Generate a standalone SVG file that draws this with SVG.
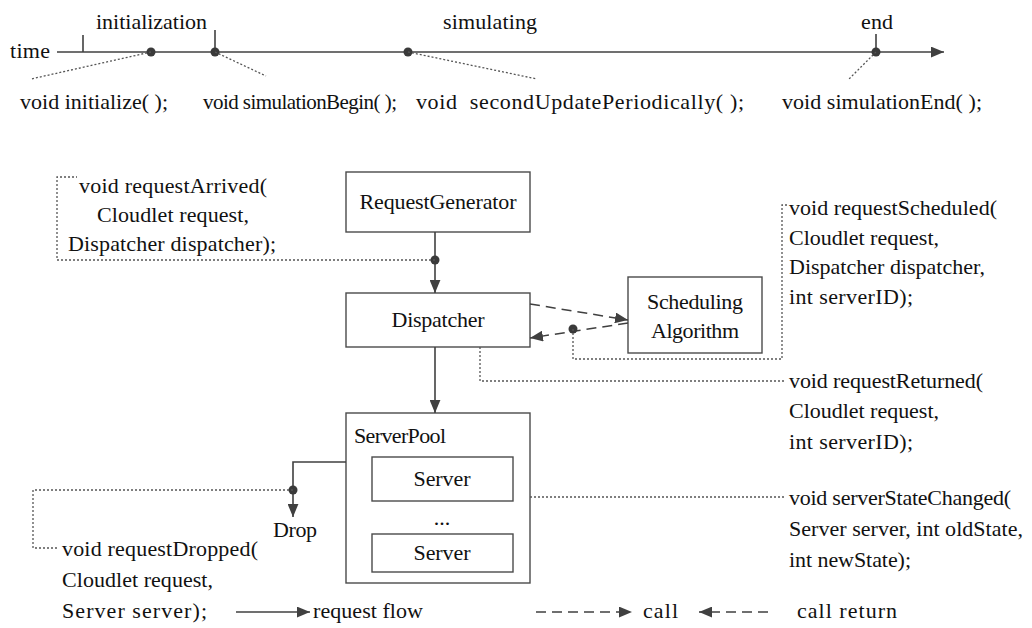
<svg xmlns="http://www.w3.org/2000/svg" width="1032" height="628" viewBox="0 0 1032 628" font-family="'Liberation Serif', 'DejaVu Serif', serif" font-size="22">
  <style>
    text { font-family: "Liberation Serif", "DejaVu Serif", serif; font-size: 22px; fill: #111; }
    .mid { text-anchor: middle; }
    .box { fill: #fff; stroke: #4a4a4a; stroke-width: 1.4; }
    .flow { fill: none; stroke: #404040; stroke-width: 1.6; }
    .call { fill: none; stroke: #404040; stroke-width: 1.5; stroke-dasharray: 10 6; }
    .hook { fill: none; stroke: #555; stroke-width: 1.3; stroke-dasharray: 2 2; }
    .dot { fill: #3a3a3a; }
  </style>
  <defs>
    <marker id="arrow" viewBox="0 0 12 10" refX="12" refY="5" markerWidth="13" markerHeight="11" markerUnits="userSpaceOnUse" orient="auto">
      <path d="M0,0 L12,5 L0,10 Z" fill="#404040"/>
    </marker>
  </defs>

  <!-- time axis -->
  <g id="timeline">
    <text x="10" y="58" textLength="40">time</text>
    <line class="flow" x1="57" y1="52" x2="944" y2="52" marker-end="url(#arrow)"/>
    <line class="flow" x1="83" y1="35" x2="83" y2="52"/>
    <line class="flow" x1="215" y1="30" x2="215" y2="52"/>
    <line class="flow" x1="876" y1="34" x2="876" y2="52"/>
    <circle class="dot" cx="151" cy="52" r="4.5"/>
    <circle class="dot" cx="215" cy="52" r="4.5"/>
    <circle class="dot" cx="408" cy="52" r="4.5"/>
    <circle class="dot" cx="876" cy="52" r="4.5"/>
    <text x="96" y="29" textLength="111">initialization</text>
    <text x="443" y="29" textLength="94">simulating</text>
    <text x="861" y="29" textLength="32">end</text>
    <line class="hook" x1="151" y1="52" x2="31" y2="79"/>
    <line class="hook" x1="215" y1="52" x2="266" y2="76"/>
    <line class="hook" x1="408" y1="52" x2="537" y2="79"/>
    <line class="hook" x1="876" y1="52" x2="848" y2="80"/>
    <text x="20" y="109" textLength="148">void initialize( );</text>
    <text x="203" y="109" style="font-size:21px" textLength="194">void simulationBegin( );</text>
    <text x="416" y="109" xml:space="preserve" textLength="328">void  secondUpdatePeriodically( );</text>
    <text x="782" y="109" textLength="200">void simulationEnd( );</text>
  </g>

  <!-- components -->
  <g id="request-generator">
    <rect class="box" x="346" y="172" width="184" height="60"/>
    <text class="mid" x="438" y="209" textLength="157">RequestGenerator</text>
  </g>
  <g id="dispatcher">
    <rect class="box" x="346" y="293" width="184" height="54"/>
    <text class="mid" x="438" y="327" textLength="93">Dispatcher</text>
  </g>
  <g id="scheduling-algorithm">
    <rect class="box" x="628" y="277" width="134" height="76"/>
    <text class="mid" x="695" y="309" textLength="96">Scheduling</text>
    <text class="mid" x="695" y="338" textLength="88">Algorithm</text>
  </g>
  <g id="server-pool">
    <rect class="box" x="346" y="413" width="184" height="170"/>
    <text x="354" y="443" textLength="92">ServerPool</text>
  </g>
  <g id="server-1">
    <rect class="box" x="372" y="457" width="141" height="44"/>
    <text class="mid" x="442" y="486" textLength="57">Server</text>
  </g>
  <g id="server-ellipsis">
    <text class="mid" x="442" y="525">...</text>
  </g>
  <g id="server-2">
    <rect class="box" x="372" y="534" width="141" height="38"/>
    <text class="mid" x="442" y="560" textLength="57">Server</text>
  </g>
  <g id="drop">
    <text x="273" y="537" textLength="44">Drop</text>
  </g>

  <!-- connectors -->
  <g id="connectors">
    <line class="flow" x1="435" y1="232" x2="435" y2="293" marker-end="url(#arrow)"/>
    <line class="flow" x1="435" y1="347" x2="435" y2="413" marker-end="url(#arrow)"/>
    <path class="flow" d="M346,462 H293 V517" marker-end="url(#arrow)"/>
    <line class="call" x1="530" y1="304" x2="628" y2="320" marker-end="url(#arrow)"/>
    <line class="call" x1="628" y1="323" x2="530" y2="338" marker-end="url(#arrow)"/>
    <circle class="dot" cx="435" cy="260" r="4.5"/>
    <circle class="dot" cx="573" cy="329" r="4.5"/>
    <circle class="dot" cx="293" cy="490" r="4.5"/>
    <path class="hook" d="M435,260 H57 V177 H77"/>
    <path class="hook" d="M573,329 V359 H782 V205 H787"/>
    <path class="hook" d="M480,347 V381 H785"/>
    <path class="hook" d="M530,497 H785"/>
    <path class="hook" d="M293,490 H33 V548 H58"/>
  </g>

  <!-- callback signatures -->
  <g id="request-arrived">
    <text x="79" y="193" textLength="188">void requestArrived(</text>
    <text x="97" y="222" textLength="152">Cloudlet request,</text>
    <text x="68" y="251" textLength="208">Dispatcher dispatcher);</text>
  </g>
  <g id="request-scheduled">
    <text x="789" y="215" textLength="208">void requestScheduled(</text>
    <text x="789" y="245" textLength="150">Cloudlet request,</text>
    <text x="789" y="274" textLength="196">Dispatcher dispatcher,</text>
    <text x="789" y="304" textLength="124">int serverID);</text>
  </g>
  <g id="request-returned">
    <text x="789" y="388" textLength="194">void requestReturned(</text>
    <text x="789" y="418" textLength="150">Cloudlet request,</text>
    <text x="789" y="449" textLength="124">int serverID);</text>
  </g>
  <g id="server-state-changed">
    <text x="789" y="505" textLength="222">void serverStateChanged(</text>
    <text x="789" y="536" textLength="234">Server server, int oldState,</text>
    <text x="789" y="567" textLength="122">int newState);</text>
  </g>
  <g id="request-dropped">
    <text x="62" y="556" textLength="196">void requestDropped(</text>
    <text x="62" y="587" textLength="151">Cloudlet request,</text>
    <text x="62" y="618" textLength="145">Server server);</text>
  </g>

  <!-- legend -->
  <g id="legend">
    <line class="flow" x1="236" y1="612" x2="310" y2="612" marker-end="url(#arrow)"/>
    <text x="313" y="618" textLength="110">request flow</text>
    <line class="call" x1="536" y1="612" x2="632" y2="612" marker-end="url(#arrow)"/>
    <text x="643" y="618" textLength="35">call</text>
    <line class="call" x1="768" y1="612" x2="699" y2="612" marker-end="url(#arrow)"/>
    <text x="797" y="618" textLength="100">call return</text>
  </g>
</svg>
